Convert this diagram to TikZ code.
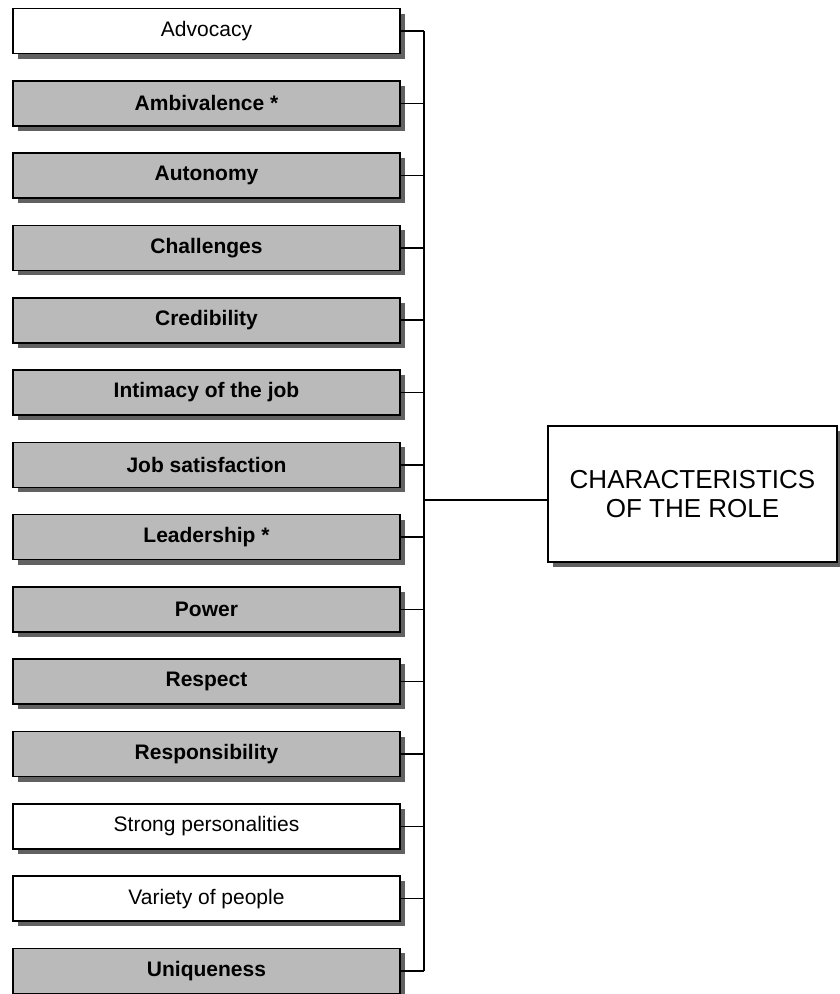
\documentclass[tikz,border=0pt]{standalone}
\usepackage{fontspec}
\setmainfont{Liberation Sans}
\usetikzlibrary{shadows}

\tikzset{
  itembox/.style={draw=black, line width=1.6pt, minimum width=387pt, minimum height=45pt,
    inner sep=0pt, font=\fontsize{21}{25}\selectfont,
    drop shadow={shadow xshift=5pt, shadow yshift=-5pt, fill=black!62, opacity=1}},
  itemwhite/.style={itembox, fill=white},
  itemgray/.style={itembox, fill=black!27, font=\fontsize{21}{25}\selectfont\bfseries},
  rolebox/.style={draw=black, line width=1.6pt, fill=white, minimum width=289pt,
    minimum height=136pt, inner sep=0pt, align=center,
    font=\fontsize{26}{29}\selectfont,
    drop shadow={shadow xshift=5pt, shadow yshift=-5pt, fill=black!62, opacity=1}},
  link/.style={line width=1.5pt, black}
}

\begin{document}
\begin{tikzpicture}[x=1pt, y=1pt]
  \useasboundingbox (0,0) rectangle (840,-994);

  % vertical bus position
  \coordinate (bus) at (424,0);

  % list of characteristics
  \foreach \i/\t/\s in {
      0/Advocacy/itemwhite,
      1/Ambivalence */itemgray,
      2/Autonomy/itemgray,
      3/Challenges/itemgray,
      4/Credibility/itemgray,
      5/Intimacy of the job/itemgray,
      6/Job satisfaction/itemgray,
      7/Leadership */itemgray,
      8/Power/itemgray,
      9/Respect/itemgray,
      10/Responsibility/itemgray,
      11/Strong personalities/itemwhite,
      12/Variety of people/itemwhite,
      13/Uniqueness/itemgray} {
    \node[\s] (b\i) at (206.5, {-(31+72.3*\i)}) {\t};
  }

  % central box
  \node[rolebox] (role) at (692.5,-494) {CHARACTERISTICS\\OF THE ROLE};

  % bracket connectors
  \foreach \i in {0,...,13} {
    \draw[link] (b\i.east) -- (b\i.east -| bus);
  }
  \draw[link] (b0.east -| bus) -- (b13.east -| bus);
  \draw[link] ([yshift=-6pt]role.west) -- ([yshift=-6pt]role.west -| bus);
\end{tikzpicture}
\end{document}
